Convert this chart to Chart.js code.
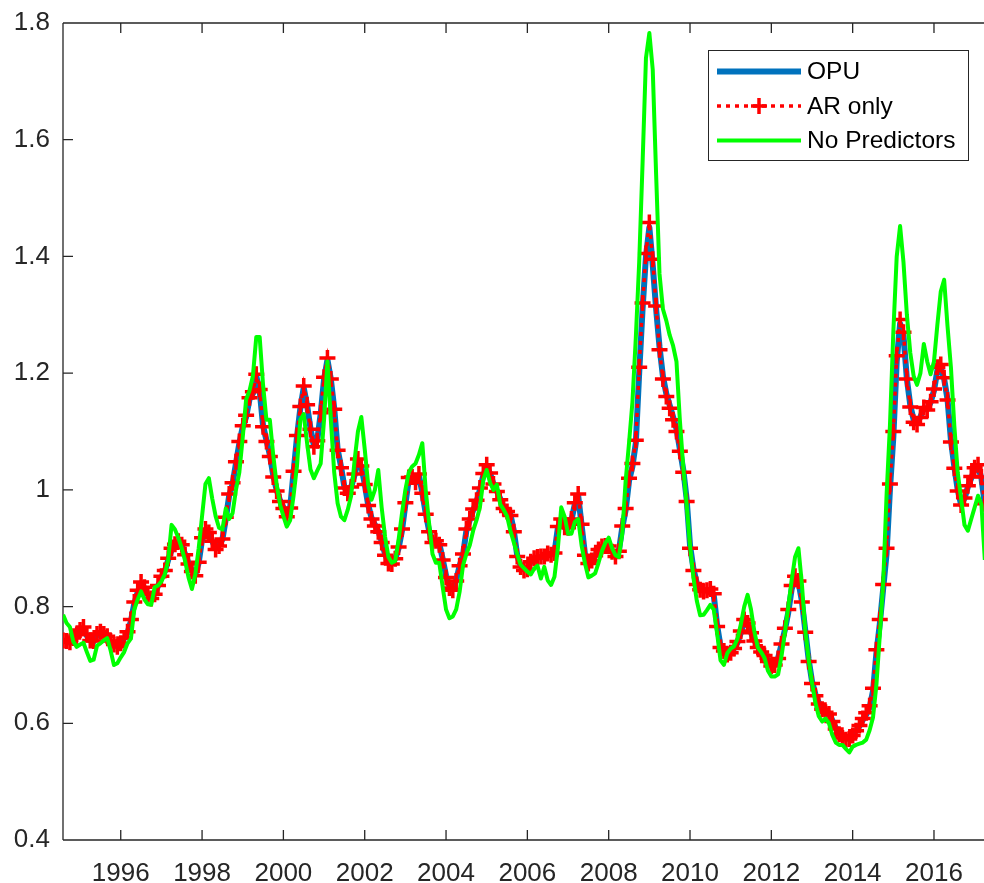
<!DOCTYPE html>
<html><head><meta charset="utf-8">
<script src="https://cdn.jsdelivr.net/npm/chart.js@4.4.1/dist/chart.umd.min.js"></script>
<style>html,body{margin:0;padding:0;background:#fff;overflow:hidden}#wrap{width:984px;height:883px;position:relative}</style>
</head><body><div id="wrap"><canvas id="c" width="984" height="883"></canvas></div>
<script>
// Monthly series starting August 1994
const startYear = 1994, startMonth = 8;
const seriesNames = ['OPU', 'AR only', 'No Predictors'];
const xTicks = [1996, 1998, 2000, 2002, 2004, 2006, 2008, 2010, 2012, 2014, 2016];
const yTicks = [0.4, 0.6, 0.8, 1.0, 1.2, 1.4, 1.6, 1.8];

const opu = [
0.742,0.740,0.738,0.745,0.750,0.758,0.762,0.750,0.742,0.740,
0.752,0.755,0.752,0.748,0.740,0.735,0.732,0.738,0.745,0.755,
0.775,0.805,0.825,0.840,0.832,0.820,0.815,0.822,0.835,0.850,
0.860,0.880,0.897,0.905,0.910,0.905,0.890,0.875,0.862,0.855,
0.875,0.915,0.930,0.925,0.912,0.900,0.905,0.915,0.950,0.990,
1.010,1.045,1.080,1.108,1.125,1.155,1.165,1.195,1.170,1.110,
1.085,1.060,1.025,1.000,0.982,0.970,0.956,0.970,1.030,1.090,
1.140,1.175,1.145,1.105,1.076,1.085,1.130,1.190,1.223,1.190,
1.140,1.070,1.040,1.005,0.995,1.005,1.025,1.050,1.040,1.010,
0.975,0.952,0.940,0.930,0.912,0.890,0.876,0.874,0.882,0.900,
0.930,0.975,1.018,1.020,1.012,1.025,0.995,0.960,0.930,0.912,
0.914,0.908,0.882,0.853,0.835,0.830,0.845,0.870,0.888,0.930,
0.948,0.965,0.980,1.000,1.025,1.040,1.028,1.010,0.998,0.985,
0.970,0.965,0.958,0.930,0.888,0.870,0.864,0.865,0.877,0.882,
0.884,0.885,0.885,0.890,0.890,0.892,0.935,0.948,0.935,0.935,
0.948,0.975,0.990,0.940,0.890,0.876,0.880,0.887,0.897,0.902,
0.903,0.903,0.895,0.888,0.895,0.935,0.965,1.015,1.040,1.080,
1.200,1.310,1.400,1.450,1.385,1.310,1.245,1.195,1.165,1.145,
1.125,1.105,1.070,1.035,0.985,0.905,0.865,0.840,0.830,0.827,
0.828,0.829,0.820,0.768,0.732,0.726,0.720,0.722,0.728,0.738,
0.755,0.775,0.770,0.755,0.742,0.732,0.724,0.718,0.708,0.700,
0.702,0.712,0.735,0.760,0.790,0.830,0.848,0.842,0.810,0.760,
0.710,0.672,0.650,0.635,0.625,0.620,0.617,0.605,0.592,0.583,
0.577,0.574,0.574,0.580,0.587,0.595,0.606,0.615,0.627,0.655,
0.720,0.770,0.830,0.890,1.000,1.090,1.220,1.285,1.265,1.190,
1.145,1.120,1.115,1.125,1.140,1.138,1.150,1.170,1.205,1.210,
1.190,1.155,1.085,1.040,1.000,0.975,0.985,1.005,1.020,1.035,
1.040,1.020,0.975
];

const arOnly = [
0.742,0.741,0.739,0.746,0.752,0.760,0.765,0.752,0.742,0.741,
0.753,0.757,0.753,0.749,0.741,0.735,0.731,0.737,0.746,0.757,
0.778,0.808,0.828,0.842,0.833,0.821,0.814,0.821,0.836,0.852,
0.862,0.883,0.900,0.907,0.912,0.906,0.889,0.873,0.860,0.853,
0.876,0.918,0.933,0.927,0.912,0.898,0.904,0.916,0.953,0.993,
1.012,1.048,1.083,1.110,1.128,1.158,1.168,1.198,1.172,1.108,
1.083,1.057,1.022,0.998,0.980,0.968,0.954,0.969,1.032,1.093,
1.143,1.178,1.146,1.104,1.074,1.084,1.132,1.193,1.226,1.190,
1.138,1.068,1.038,1.003,0.994,1.005,1.027,1.053,1.041,1.009,
0.973,0.950,0.938,0.928,0.910,0.888,0.874,0.873,0.882,0.902,
0.933,0.978,1.021,1.022,1.013,1.027,0.994,0.958,0.928,0.910,
0.913,0.906,0.880,0.850,0.832,0.828,0.844,0.870,0.890,0.933,
0.950,0.967,0.982,1.003,1.028,1.043,1.029,1.010,0.997,0.983,
0.968,0.963,0.956,0.928,0.886,0.868,0.862,0.864,0.877,0.883,
0.885,0.886,0.886,0.891,0.889,0.892,0.937,0.950,0.936,0.935,
0.950,0.978,0.993,0.941,0.888,0.874,0.879,0.887,0.898,0.903,
0.904,0.904,0.894,0.886,0.895,0.938,0.968,1.020,1.045,1.085,
1.210,1.320,1.405,1.458,1.395,1.315,1.240,1.190,1.160,1.140,
1.120,1.100,1.066,1.030,0.980,0.900,0.862,0.838,0.829,0.826,
0.828,0.830,0.822,0.766,0.730,0.724,0.718,0.721,0.728,0.740,
0.758,0.778,0.772,0.755,0.741,0.730,0.722,0.716,0.706,0.698,
0.700,0.711,0.736,0.763,0.795,0.836,0.852,0.844,0.808,0.756,
0.706,0.668,0.647,0.633,0.624,0.619,0.616,0.603,0.590,0.581,
0.575,0.572,0.573,0.579,0.587,0.596,0.608,0.618,0.630,0.660,
0.726,0.778,0.838,0.900,1.010,1.100,1.230,1.292,1.270,1.190,
1.142,1.116,1.112,1.124,1.141,1.137,1.151,1.173,1.210,1.215,
1.192,1.154,1.082,1.037,0.998,0.974,0.986,1.007,1.023,1.038,
1.043,1.022,0.976
];

const noPredictors = [
0.786,0.772,0.765,0.740,0.731,0.735,0.738,0.722,0.707,0.709,
0.733,0.737,0.742,0.746,0.725,0.700,0.703,0.713,0.722,0.737,
0.745,0.795,0.812,0.826,0.812,0.804,0.803,0.833,0.836,0.843,
0.855,0.880,0.940,0.932,0.918,0.900,0.878,0.850,0.830,0.855,
0.900,0.955,1.010,1.020,0.985,0.955,0.935,0.932,0.968,0.950,
0.960,1.000,1.030,1.090,1.155,1.170,1.195,1.262,1.262,1.180,
1.120,1.120,1.060,1.010,0.975,0.955,0.937,0.948,0.990,1.040,
1.120,1.130,1.080,1.035,1.020,1.033,1.045,1.120,1.220,1.120,
1.030,0.977,0.954,0.948,0.966,0.990,1.050,1.100,1.125,1.070,
1.010,0.983,1.000,1.034,0.970,0.920,0.885,0.875,0.878,0.915,
0.960,1.000,1.030,1.040,1.045,1.060,1.080,1.000,0.943,0.890,
0.875,0.875,0.834,0.795,0.780,0.783,0.795,0.825,0.870,0.890,
0.905,0.930,0.948,0.970,1.017,1.034,1.012,1.000,1.009,0.975,
0.966,0.955,0.930,0.910,0.890,0.872,0.866,0.860,0.855,0.865,
0.870,0.848,0.868,0.845,0.837,0.851,0.900,0.970,0.954,0.925,
0.925,0.945,0.950,0.905,0.874,0.850,0.853,0.857,0.875,0.895,
0.909,0.918,0.900,0.888,0.885,0.925,1.015,1.080,1.150,1.260,
1.390,1.560,1.740,1.783,1.720,1.540,1.370,1.310,1.290,1.265,
1.247,1.220,1.120,1.040,0.975,0.905,0.850,0.810,0.785,0.786,
0.794,0.803,0.795,0.754,0.708,0.700,0.720,0.728,0.732,0.745,
0.770,0.800,0.820,0.795,0.757,0.730,0.722,0.712,0.690,0.680,
0.680,0.684,0.715,0.755,0.800,0.845,0.885,0.900,0.840,0.760,
0.710,0.670,0.635,0.612,0.603,0.608,0.600,0.580,0.567,0.563,
0.563,0.556,0.550,0.560,0.563,0.565,0.567,0.572,0.588,0.610,
0.665,0.750,0.840,0.990,1.110,1.270,1.400,1.452,1.390,1.300,
1.235,1.195,1.180,1.200,1.250,1.220,1.198,1.220,1.283,1.340,
1.360,1.280,1.210,1.110,1.030,0.985,0.940,0.930,0.950,0.970,
0.990,0.975,0.880
];

function toPoints(vals) {
  return vals.map((v, i) => ({ x: startYear + (startMonth - 1 + i) / 12, y: v }));
}

const FONT = '"Liberation Sans", Arial, Helvetica, sans-serif';
const AXIS_COLOR = '#262626';

const framePlugin = {
  id: 'matlabFrame',
  beforeDatasetsDraw(chart) {
    const { ctx, chartArea: a, scales } = chart;
    const xs = scales.x, ys = scales.y;
    ctx.save();
    ctx.strokeStyle = AXIS_COLOR;
    ctx.lineWidth = 1.3;
    ctx.beginPath();
    ctx.moveTo(a.left, a.top); ctx.lineTo(a.left, a.bottom);
    ctx.moveTo(a.left, a.bottom); ctx.lineTo(a.right + 2, a.bottom);
    ctx.moveTo(a.left, a.top); ctx.lineTo(a.right + 2, a.top);
    xTicks.forEach(v => {
      const px = xs.getPixelForValue(v);
      ctx.moveTo(px, a.bottom); ctx.lineTo(px, a.bottom - 10);
      ctx.moveTo(px, a.top); ctx.lineTo(px, a.top + 10);
    });
    yTicks.forEach(v => {
      const py = ys.getPixelForValue(v);
      ctx.moveTo(a.left, py); ctx.lineTo(a.left + 10, py);
    });
    ctx.stroke();
    ctx.restore();
  }
};

const legendPlugin = {
  id: 'matlabLegend',
  afterDraw(chart) {
    const ctx = chart.ctx;
    const ds = chart.data.datasets;
    ctx.save();
    const bx = 708.5, by = 50.5, bw = 260, bh = 110;
    ctx.fillStyle = '#ffffff';
    ctx.fillRect(bx, by, bw, bh);
    ctx.strokeStyle = '#262626';
    ctx.lineWidth = 1;
    ctx.strokeRect(bx, by, bw, bh);
    const rows = [71.5, 106, 140.5];
    const x0 = 717, x1 = 801;
    ds.forEach((d, i) => {
      const y = rows[i];
      ctx.save();
      ctx.strokeStyle = d.borderColor;
      ctx.lineWidth = d.borderWidth;
      ctx.setLineDash(d.borderDash || []);
      ctx.lineCap = 'butt';
      ctx.beginPath(); ctx.moveTo(x0, y); ctx.lineTo(x1, y); ctx.stroke();
      ctx.setLineDash([]);
      if (d.pointStyle === 'cross') {
        const cx = (x0 + x1) / 2, r = 8;
        ctx.lineWidth = d.pointBorderWidth;
        ctx.strokeStyle = d.pointBorderColor;
        ctx.beginPath();
        ctx.moveTo(cx - r, y); ctx.lineTo(cx + r, y);
        ctx.moveTo(cx, y - r); ctx.lineTo(cx, y + r);
        ctx.stroke();
      }
      ctx.restore();
      ctx.fillStyle = '#000000';
      ctx.font = '24.5px ' + FONT;
      ctx.textBaseline = 'middle';
      ctx.textAlign = 'left';
      ctx.fillText(d.label, 807, y + 1);
    });
    ctx.restore();
  }
};

new Chart(document.getElementById('c'), {
  type: 'line',
  data: {
    datasets: [
      {
        label: seriesNames[0], data: toPoints(opu),
        borderColor: '#0072BD', backgroundColor: '#0072BD', borderWidth: 6,
        pointRadius: 0, tension: 0, borderJoinStyle: 'round', order: 3
      },
      {
        label: seriesNames[1], data: toPoints(arOnly),
        borderColor: '#FF0000', backgroundColor: '#FF0000', borderWidth: 3.5, borderDash: [4, 5],
        pointStyle: 'cross', pointRadius: 8, pointBorderWidth: 3.5, pointBorderColor: '#FF0000',
        pointBackgroundColor: '#FF0000', pointHoverRadius: 8, tension: 0, order: 2
      },
      {
        label: seriesNames[2], data: toPoints(noPredictors),
        borderColor: '#00FF00', backgroundColor: '#00FF00', borderWidth: 4,
        pointRadius: 0, tension: 0, borderJoinStyle: 'round', order: 1
      }
    ]
  },
  options: {
    responsive: false,
    animation: false,
    devicePixelRatio: 1,
    layout: { autoPadding: false, padding: { top: 23, right: 0, left: 0, bottom: 0 } },
    plugins: { legend: { display: false }, tooltip: { enabled: false } },
    scales: {
      x: {
        type: 'linear', min: 1994.58, max: 2017.23,
        grid: { display: false }, border: { display: false },
        afterBuildTicks: s => { s.ticks = xTicks.map(v => ({ value: v })); },
        afterFit: s => { s.height = 43; s.paddingLeft = 0; s.paddingRight = 0; },
        ticks: { color: AXIS_COLOR, font: { family: FONT, size: 26 }, padding: 10,
                 maxRotation: 0, autoSkip: false, callback: v => String(v) }
      },
      y: {
        type: 'linear', min: 0.4, max: 1.8,
        grid: { display: false }, border: { display: false },
        afterBuildTicks: s => { s.ticks = yTicks.map(v => ({ value: v })); },
        afterFit: s => { s.width = 63; s.paddingTop = 0; s.paddingBottom = 0; },
        ticks: { color: AXIS_COLOR, font: { family: FONT, size: 26 }, padding: 5,
                 callback: v => (Math.abs(v - 1) < 1e-9 ? '1' : String(Math.round(v * 10) / 10)) }
      }
    }
  },
  plugins: [framePlugin, legendPlugin]
});
</script>
</body></html>
